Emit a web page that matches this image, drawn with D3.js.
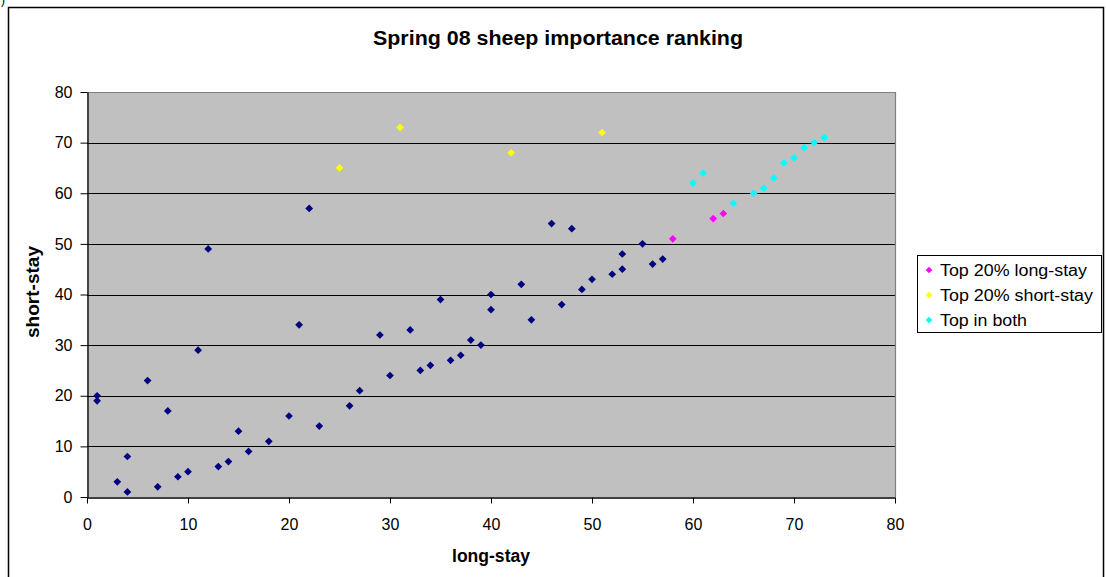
<!DOCTYPE html>
<html>
<head>
<meta charset="utf-8">
<script src="https://cdn.jsdelivr.net/npm/d3@7"></script>
<style>
  body { margin: 0; background: #fff; }
  svg { display: block; font-family: Arial, "Liberation Sans", sans-serif; }
</style>
</head>
<body>
<svg id="chart" width="1106" height="577"></svg>
<script>
// rest of the flock
const otherLong  = [1, 1, 3, 4, 4, 6, 7, 8, 9, 10, 11, 12, 13, 14, 15, 16, 18, 20, 21, 22, 23, 26, 27, 29, 30, 32, 33, 34, 35, 36, 37, 38, 39, 40, 40, 43, 44, 46, 47, 48, 49, 50, 52, 53, 53, 55, 56, 57];
const otherShort = [20, 19, 3, 8, 1, 23, 2, 17, 4, 5, 29, 49, 6, 7, 13, 9, 11, 16, 34, 57, 14, 18, 21, 32, 24, 33, 25, 26, 39, 27, 28, 31, 30, 40, 37, 42, 35, 54, 38, 53, 41, 43, 44, 48, 45, 50, 46, 47];

const topLongLong  = [58, 62, 63];
const topLongShort = [51, 55, 56];

const topShortLong  = [25, 31, 42, 51];
const topShortShort = [65, 73, 68, 72];

const bothLong  = [60, 61, 64, 66, 67, 68, 69, 70, 71, 72, 73];
const bothShort = [62, 64, 58, 60, 61, 63, 66, 67, 69, 70, 71];

const ticks = [0, 10, 20, 30, 40, 50, 60, 70, 80];

const series = [
  { name: null, color: "#000080", xs: otherLong, ys: otherShort },
  { name: "Top 20% long-stay", color: "#FF00FF", xs: topLongLong, ys: topLongShort },
  { name: "Top 20% short-stay", color: "#FFFF00", xs: topShortLong, ys: topShortShort },
  { name: "Top in both", color: "#00FFFF", xs: bothLong, ys: bothShort }
];

const svg = d3.select("#chart");

// outer chart frame
svg.append("rect")
  .attr("x", 8.5).attr("y", 7.5)
  .attr("width", 1095).attr("height", 600)
  .attr("fill", "none").attr("stroke", "#000").attr("stroke-width", 1.5);

svg.append("text").attr("x", 1).attr("y", 4)
  .attr("font-size", 12).text(")");

const plot = { left: 87, top: 92, right: 895, bottom: 497 };

const x = d3.scaleLinear().domain([0, 80]).range([plot.left, plot.right]);
const y = d3.scaleLinear().domain([0, 80]).range([plot.bottom, plot.top]);

// plot area
svg.append("rect")
  .attr("x", plot.left).attr("y", plot.top)
  .attr("width", plot.right - plot.left).attr("height", plot.bottom - plot.top)
  .attr("fill", "#C0C0C0");

// horizontal gridlines
svg.append("g")
  .selectAll("line")
  .data(ticks.slice(1, -1))
  .join("line")
  .attr("x1", plot.left).attr("x2", plot.right)
  .attr("y1", d => Math.round(y(d)) + 0.5).attr("y2", d => Math.round(y(d)) + 0.5)
  .attr("stroke", "#000").attr("stroke-width", 1);

// plot border (top / right)
svg.append("path")
  .attr("d", `M${plot.left},${plot.top + 0.5}H${plot.right + 0.5}V${plot.bottom}`)
  .attr("fill", "none").attr("stroke", "#808080").attr("stroke-width", 1.2);

// axes
const xAxis = svg.append("g")
  .attr("transform", `translate(0,${plot.bottom + 0.5})`)
  .call(d3.axisBottom(x).tickValues(ticks).tickSize(6).tickPadding(15).tickSizeOuter(0));
const yAxis = svg.append("g")
  .attr("transform", `translate(${plot.left + 0.5},0)`)
  .call(d3.axisLeft(y).tickValues(ticks).tickSize(7).tickPadding(8).tickSizeOuter(0));

[xAxis, yAxis].forEach(g => {
  g.select(".domain").attr("stroke", "#000").attr("stroke-width", 1.3);
  g.selectAll(".tick line").attr("stroke", "#000");
  g.selectAll(".tick text")
    .attr("font-size", 16).attr("fill", "#000")
    .attr("font-family", "Arial, 'Liberation Sans', sans-serif");
});

// markers
const diamond = d3.symbol(d3.symbolSquare, 30);
series.forEach(s => {
  svg.append("g")
    .selectAll("path")
    .data(s.xs.map((v, i) => [v, s.ys[i]]))
    .join("path")
    .attr("d", diamond)
    .attr("transform", d => `translate(${x(d[0])},${y(d[1])}) rotate(45)`)
    .attr("fill", s.color);
});

// titles
svg.append("text")
  .attr("x", 558).attr("y", 45)
  .attr("text-anchor", "middle")
  .attr("font-size", 20).attr("font-weight", "bold")
  .attr("textLength", 370).attr("lengthAdjust", "spacingAndGlyphs")
  .text("Spring 08 sheep importance ranking");

svg.append("text")
  .attr("x", 491).attr("y", 562)
  .attr("text-anchor", "middle")
  .attr("font-size", 18).attr("font-weight", "bold")
  .attr("textLength", 78).attr("lengthAdjust", "spacingAndGlyphs")
  .text("long-stay");

svg.append("text")
  .attr("transform", "translate(39,292) rotate(-90)")
  .attr("text-anchor", "middle")
  .attr("font-size", 18).attr("font-weight", "bold")
  .attr("textLength", 92).attr("lengthAdjust", "spacingAndGlyphs")
  .text("short-stay");

// legend
const legend = svg.append("g");
legend.append("rect")
  .attr("x", 917.5).attr("y", 255.5)
  .attr("width", 184).attr("height", 77)
  .attr("fill", "#fff").attr("stroke", "#000").attr("stroke-width", 1);

const legendItems = series.filter(s => s.name);
const legendWidths = [147, 153, 87];
const row = legend.selectAll("g.item")
  .data(legendItems)
  .join("g")
  .attr("transform", (d, i) => `translate(929,${270 + i * 25})`);
row.append("path")
  .attr("d", d3.symbol(d3.symbolSquare, 22))
  .attr("transform", "rotate(45)")
  .attr("fill", d => d.color);
row.append("text")
  .attr("x", 11).attr("y", 6)
  .attr("font-size", 16)
  .attr("textLength", (d, i) => legendWidths[i]).attr("lengthAdjust", "spacingAndGlyphs")
  .text(d => d.name);
</script>
</body>
</html>
